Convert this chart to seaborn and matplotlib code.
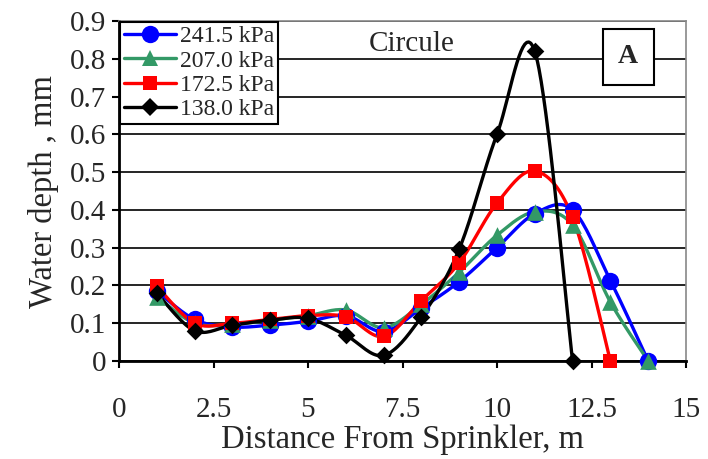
import numpy as np
import pandas as pd
import seaborn as sns
import matplotlib
matplotlib.use("Agg")
import matplotlib.pyplot as plt
from matplotlib.lines import Line2D

distance = [1, 2, 3, 4, 5, 6, 7, 8, 9, 10, 11, 12, 13, 14]
p241 = [0.185, 0.11, 0.09, 0.095, 0.105, 0.12, 0.078, 0.14, 0.21, 0.30, 0.39, 0.40, 0.213, 0.0]
p207 = [0.17, 0.10, 0.097, 0.108, 0.12, 0.135, 0.088, 0.15, 0.235, 0.333, 0.395, 0.36, 0.156, 0.0]
p172 = [0.198, 0.10, 0.10, 0.11, 0.12, 0.117, 0.065, 0.16, 0.26, 0.418, 0.503, 0.38, 0.0]
p138 = [0.18, 0.08, 0.095, 0.108, 0.113, 0.068, 0.015, 0.117, 0.296, 0.60, 0.82, 0.0]
labels = ["241.5 kPa", "207.0 kPa", "172.5 kPa", "138.0 kPa"]
series = [p241, p207, p172, p138]
colors = ["#0000FF", "#339966", "#FF0000", "#000000"]
markers = ["o", "^", "s", "D"]
msizes = [12.5, 12, 10, 9]

rows = []
for lab, vals in zip(labels, series):
    for d, v in zip(distance, vals):
        rows.append({"Distance": d, "Depth": v, "Pressure": lab})
df = pd.DataFrame(rows)


def smooth(x, y, n=20):
    # Excel-like smoothed line (Bezier with 1/6 tension)
    x = np.asarray(x, float); y = np.asarray(y, float)
    px = np.concatenate([[x[0]], x, [x[-1]]])
    py = np.concatenate([[y[0]], y, [y[-1]]])
    xs, ys = [], []
    t = np.linspace(0, 1, n)
    for i in range(1, len(px) - 2):
        p0 = np.array([px[i], py[i]]); p3 = np.array([px[i + 1], py[i + 1]])
        c1 = p0 + (np.array([px[i + 1], py[i + 1]]) - np.array([px[i - 1], py[i - 1]])) / 6
        c2 = p3 - (np.array([px[i + 2], py[i + 2]]) - np.array([px[i], py[i]])) / 6
        b = ((1 - t) ** 3)[:, None] * p0 + (3 * (1 - t) ** 2 * t)[:, None] * c1 + \
            (3 * (1 - t) * t ** 2)[:, None] * c2 + (t ** 3)[:, None] * p3
        xs.extend(b[:, 0]); ys.extend(b[:, 1])
    return np.array(xs), np.array(ys)


sns.set_style("white")
plt.rcParams["font.family"] = ["Liberation Serif", "DejaVu Serif"]

fig = plt.figure(figsize=(7.08, 4.59), dpi=100)
ax = fig.add_axes([119 / 708, 1 - 361 / 459, (686 - 119) / 708, (361 - 21) / 459])

for lab, col, mk, ms in zip(labels, colors, markers, msizes):
    sub = df[df["Pressure"] == lab]
    sx, sy = smooth(sub["Distance"], sub["Depth"])
    ax.plot(sx, sy, color=col, lw=2.4, zorder=3)
    sns.scatterplot(data=sub, x="Distance", y="Depth", color=col, marker=mk,
                    s=(ms ** 2), edgecolor=col, linewidth=0, ax=ax, zorder=4,
                    legend=False, clip_on=False)

ax.set_xlim(0, 15)
ax.set_ylim(0, 0.9)
ax.set_xticks([0, 2.5, 5, 7.5, 10, 12.5, 15])
ax.set_xticklabels(["0", "2.5", "5", "7.5", "10", "12.5", "15"])
ax.set_yticks(np.arange(0, 0.91, 0.1))
ax.set_yticklabels(["0", "0.1", "0.2", "0.3", "0.4", "0.5", "0.6", "0.7", "0.8", "0.9"])
ax.yaxis.grid(True, color="black", lw=1.2)
ax.xaxis.grid(False)
ax.set_axisbelow(True)
for s in ["top", "right"]:
    ax.spines[s].set_color("#888888")
    ax.spines[s].set_linewidth(1.2)
for s in ["left", "bottom"]:
    ax.spines[s].set_color("black")
    ax.spines[s].set_linewidth(2)
ax.tick_params(axis="both", direction="out", length=5, width=1.5, color="black",
               labelsize=21, bottom=True, left=True)
ax.tick_params(axis="x", pad=21)
ax.tick_params(axis="y", pad=4)
ax.set_xlabel("Distance From Sprinkler, m", fontsize=23.5, labelpad=1)
ax.set_ylabel("Water depth , mm", fontsize=23.5, labelpad=8)

handles = [Line2D([0], [0], color=c, lw=2.4, marker=m, markersize=ms, markeredgewidth=0)
           for c, m, ms in zip(colors, markers, msizes)]
leg = ax.legend(handles, labels, loc="upper left", bbox_to_anchor=(0.0, 1.0),
                fontsize=17, frameon=True, fancybox=False, framealpha=1,
                edgecolor="black", borderpad=0.15, labelspacing=0.12,
                handlelength=2.2, handletextpad=0.2, borderaxespad=0.05)
leg.get_frame().set_linewidth(1.5)

ax.text(7.75, 0.84, "Circule", fontsize=21, ha="center", va="center", zorder=5)
ax.text(13.47, 0.805, "A", fontsize=20, fontweight="bold", ha="center", va="center",
        zorder=5, bbox=dict(boxstyle="square,pad=0.55", fc="white", ec="black", lw=1.5))

fig.savefig("out.png", dpi=100)
